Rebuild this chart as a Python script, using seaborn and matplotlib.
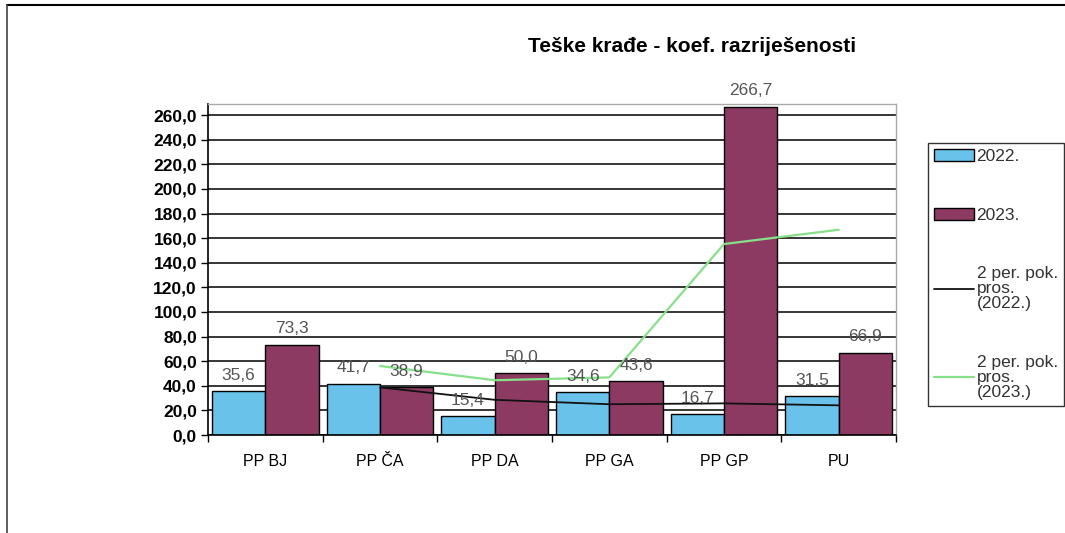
import matplotlib
matplotlib.use("Agg")
import matplotlib.pyplot as plt
import seaborn as sns
import pandas as pd
import numpy as np
from matplotlib.patches import Patch
from matplotlib.lines import Line2D

categories = ["PP BJ", "PP ČA", "PP DA", "PP GA", "PP GP", "PU"]
vals_2022 = [35.6, 41.7, 15.4, 34.6, 16.7, 31.5]
vals_2023 = [73.3, 38.9, 50.0, 43.6, 266.7, 66.9]
ma_cats = ["PP ČA", "PP DA", "PP GA", "PP GP", "PU"]
ma_2022 = [38.7, 28.6, 25.0, 25.7, 24.1]
ma_2023 = [56.1, 44.5, 46.8, 155.2, 166.8]
series_names = ["2022.", "2023."]
yticks = list(range(0, 261, 20))
title = "Teške krađe - koef. razriješenosti"

sns.set_theme(style="white")
plt.rcParams["font.family"] = ["Liberation Sans", "DejaVu Sans"]

col22 = "#68c2ea"
col23 = "#8c3a62"
colma22 = "#111111"
colma23 = "#86e08a"

df = pd.DataFrame({
    "cat": categories * 2,
    "val": vals_2022 + vals_2023,
    "year": [series_names[0]] * len(categories) + [series_names[1]] * len(categories),
})

fig = plt.figure(figsize=(10.65, 5.33), dpi=100)
ax = fig.add_axes([208 / 1065, 1 - 435 / 533, 688 / 1065, (435 - 104) / 533])

ax.set_axisbelow(True)
for t in yticks:
    ax.axhline(t, color="black", lw=1.1, zorder=0)

sns.barplot(data=df, x="cat", y="val", hue="year", order=categories,
            hue_order=series_names, palette=[col22, col23], width=0.93,
            edgecolor="black", linewidth=1.0, saturation=1, ax=ax,
            legend=False, zorder=2)

n = len(categories)
w = 0.93 / 2
for i, (a, b) in enumerate(zip(vals_2022, vals_2023)):
    for v, dx in ((a, -w / 2), (b, w / 2)):
        ax.annotate(f"{v:.1f}".replace(".", ","), (i + dx, v), xytext=(0, 6),
                    textcoords="offset points", ha="center", va="bottom",
                    fontsize=12.5, color="#555555", zorder=5)

xs = [categories.index(c) for c in ma_cats]
ax.plot(xs, ma_2022, color=colma22, lw=1.3, zorder=4)
ax.plot(xs, ma_2023, color=colma23, lw=1.6, zorder=4)

ax.set_xlim(-0.5, n - 0.5)
ax.set_ylim(0, 269)
ax.set_yticks(yticks)
ax.set_yticklabels([f"{t:.1f}".replace(".", ",") for t in yticks],
                   fontsize=12.5, fontweight="bold", color="black")
ax.set_xticks(range(n))
ax.set_xticklabels(categories, fontsize=11.5, color="black")
ax.set_xticks([i - 0.5 for i in range(n + 1)], minor=True)
ax.tick_params(axis="x", which="major", length=0, pad=14)
ax.tick_params(axis="x", which="minor", length=5, width=1, color="black", bottom=True)
ax.tick_params(axis="y", length=5, width=1, color="black", left=True, pad=3)
ax.set_xlabel("")
ax.set_ylabel("")

for s in ["left", "bottom"]:
    ax.spines[s].set_color("black")
    ax.spines[s].set_linewidth(1.2)
for s in ["top", "right"]:
    ax.spines[s].set_color("#aaaaaa")
    ax.spines[s].set_linewidth(1.0)

fig.text(692 / 1065, 1 - 47 / 533, title, ha="center", va="center",
         fontsize=15, fontweight="bold", color="black")

handles = [
    Patch(facecolor=col22, edgecolor="black", lw=1),
    Patch(facecolor=col23, edgecolor="black", lw=1),
    Line2D([], [], color=colma22, lw=1.3),
    Line2D([], [], color=colma23, lw=1.6),
]
labels = ["2022.", "2023.", "2 per. pok.\npros.\n(2022.)", "2 per. pok.\npros.\n(2023.)"]
leg = fig.legend(handles, labels, loc="upper left",
                 bbox_to_anchor=(928 / 1065, 1 - 143 / 533),
                 frameon=True, fancybox=False, edgecolor="black",
                 fontsize=12.5, labelspacing=2.5, handlelength=2.3,
                 handletextpad=0.15, borderpad=0.35, borderaxespad=0)
leg.get_frame().set_linewidth(1.0)
for t in leg.get_texts():
    t.set_color("#333333")
    t.set_linespacing(1.0)

# page border fragments (top and left)
fig.add_artist(Line2D([7 / 1065, 1.0], [1 - 5 / 533, 1 - 5 / 533],
                      transform=fig.transFigure, color="black", lw=1.5))
fig.add_artist(Line2D([7 / 1065, 7 / 1065], [0.0, 1 - 5 / 533],
                      transform=fig.transFigure, color="#444444", lw=1.2))

fig.savefig("out.png", dpi=100)
